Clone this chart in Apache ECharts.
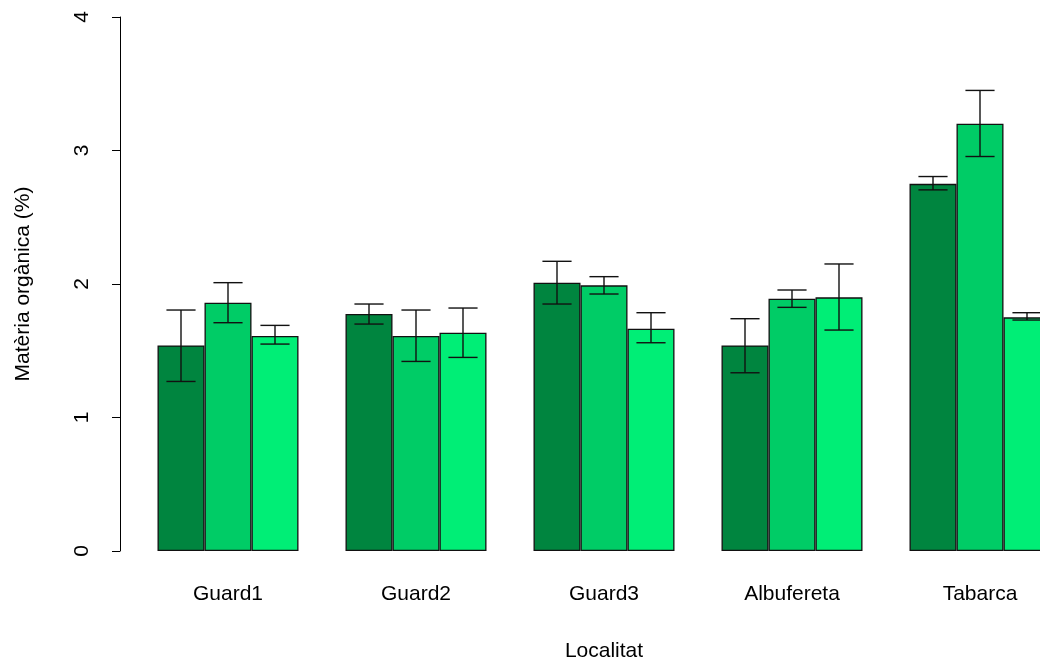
<!DOCTYPE html>
<html>
<head>
<meta charset="utf-8">
<script src="https://cdn.jsdelivr.net/npm/echarts@6/dist/echarts.min.js"></script>
<style>html,body{margin:0;padding:0;background:#fff}#c{width:1040px;height:660px}</style>
</head>
<body>
<div id="c"></div>
<script>
const categories = ['Guard1', 'Guard2', 'Guard3', 'Albufereta', 'Tabarca'];
const yTicks = [0, 1, 2, 3, 4];
const seriesA = [1.54, 1.775, 2.01, 1.54, 2.75];
const seriesB = [1.86, 1.61, 1.99, 1.89, 3.20];
const seriesC = [1.61, 1.635, 1.665, 1.90, 1.75];
const lowA = [1.27, 1.70, 1.85, 1.335, 2.705];
const highA = [1.805, 1.85, 2.17, 1.74, 2.805];
const lowB = [1.71, 1.42, 1.925, 1.825, 2.955];
const highB = [2.01, 1.805, 2.055, 1.955, 3.45];
const lowC = [1.55, 1.45, 1.56, 1.655, 1.73];
const highC = [1.69, 1.82, 1.785, 2.15, 1.785];
const colors = ['#00853F', '#00CC66', '#00EE76'];

const font = '"Liberation Sans", Arial, sans-serif';
const chart = echarts.init(document.getElementById('c'), null, {renderer: 'canvas'});

function errSeries(idx, low, high) {
  return {
    type: 'custom',
    z: 5,
    data: categories.map((c, i) => [i, low[i], high[i]]),
    renderItem: function (params, api) {
      const band = api.size([1, 0])[0];
      const bw = band * 0.25;
      const off = (idx - 1) * bw;
      const pLo = api.coord([api.value(0), api.value(1)]);
      const pHi = api.coord([api.value(0), api.value(2)]);
      const x = pLo[0] + off;
      const cap = bw * 0.31;
      const st = {stroke: '#111', lineWidth: 1.4};
      return {
        type: 'group',
        children: [
          {type: 'line', shape: {x1: x, y1: pLo[1], x2: x, y2: pHi[1]}, style: st},
          {type: 'line', shape: {x1: x - cap, y1: pLo[1], x2: x + cap, y2: pLo[1]}, style: st},
          {type: 'line', shape: {x1: x - cap, y1: pHi[1], x2: x + cap, y2: pHi[1]}, style: st}
        ]
      };
    }
  };
}

function barSeries(data, color) {
  return {
    type: 'bar',
    data: data,
    barWidth: '25%',
    barGap: '0%',
    itemStyle: {color: color, borderColor: '#111', borderWidth: 1.3},
    silent: true
  };
}

chart.setOption({
  animation: false,
  backgroundColor: '#ffffff',
  grid: {left: 134, top: 17, bottom: 109, width: 940, outerBoundsMode: 'none', containLabel: false},
  xAxis: {
    type: 'category',
    data: categories,
    axisLine: {show: false},
    axisTick: {show: false},
    axisLabel: {margin: 33, fontSize: 21, color: '#000', fontFamily: font},
    name: 'Localitat',
    nameLocation: 'middle',
    nameGap: 90,
    nameTextStyle: {fontSize: 21, color: '#000', fontFamily: font}
  },
  yAxis: {
    type: 'value',
    min: 0, max: 4, interval: 1,
    offset: 14,
    splitLine: {show: false},
    axisLine: {show: true, lineStyle: {color: '#000', width: 1}},
    axisTick: {show: true, length: 8, lineStyle: {color: '#000'}},
    axisLabel: {
      rotate: 90, margin: 27, fontSize: 21, color: '#000', fontFamily: font,
      formatter: function (v) { return yTicks.indexOf(v) >= 0 ? String(v) : ''; }
    },
    name: 'Matèria orgànica (%)',
    nameLocation: 'middle',
    nameGap: 86,
    nameTextStyle: {fontSize: 21, color: '#000', fontFamily: font}
  },
  series: [
    barSeries(seriesA, colors[0]),
    barSeries(seriesB, colors[1]),
    barSeries(seriesC, colors[2]),
    errSeries(0, lowA, highA),
    errSeries(1, lowB, highB),
    errSeries(2, lowC, highC)
  ]
});
</script>
</body>
</html>
